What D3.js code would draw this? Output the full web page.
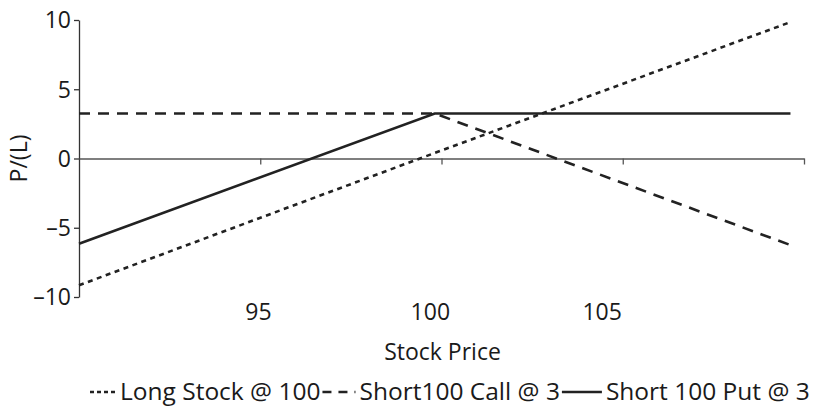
<!DOCTYPE html>
<html>
<head>
<meta charset="utf-8">
<script src="https://cdn.jsdelivr.net/npm/d3@7"></script>
<style>
  body { margin: 0; background: #fff; }
  text { font-family: "Open Sans", "Noto Sans", sans-serif; fill: #1a1a1a; }
</style>
</head>
<body>
<div id="chart"></div>
<script>
//data
var prices = [90.8, 100, 109.2];
var longStock = [-9.15, 0.4, 9.85];
var shortCall = [3.25, 3.25, -6.25];
var shortPut = [-6.15, 3.25, 3.25];

var xTickLabels = [95, 100, 105];
var yTickValues = [-10, -5, 0, 5, 10];
var seriesNames = ["Long Stock @ 100", "Short100 Call @ 3", "Short 100 Put @ 3"];

var w = 820, h = 413;
var margin = {top: 20, left: 79, right: 16, bottom: 116};
var fontSize = 23;

var svg = d3.select("#chart").append("svg")
  .attr("width", w)
  .attr("height", h);

//price axis runs a bit past the last data point
var x = d3.scaleLinear()
  .domain([90.8, 109.55])
  .range([margin.left, w - margin.right]);

//labels sit on their own (category) spacing
var xLabel = d3.scaleLinear()
  .domain([89.78, 110.87])
  .range([margin.left, w - margin.right]);

var y = d3.scaleLinear()
  .domain([-10, 10])
  .range([h - margin.bottom, margin.top]);

//y axis
var yAxis = svg.append("g")
  .attr("transform", "translate(" + margin.left + ",0)")
  .call(d3.axisLeft(y).tickValues(yTickValues).tickSize(5).tickSizeOuter(0)
    .tickFormat(function(d) { return d < 0 ? "\u2013" + Math.abs(d) : d; }));
yAxis.select(".domain").attr("stroke", "#333").attr("stroke-width", 1.3);
yAxis.selectAll(".tick line").attr("stroke", "#333").attr("stroke-width", 1.3);
yAxis.selectAll(".tick text")
  .attr("font-size", fontSize)
  .attr("x", -8)
  .attr("dy", "0.34em")
  .attr("fill", "#1a1a1a")
  .style("font-family", "'Open Sans', sans-serif");

//x axis line at zero, tick marks only
var d0 = x.domain()[0], d1 = x.domain()[1];
var xTicks = d3.range(1, 5).map(function(i) { return d0 + i * (d1 - d0) / 4; });

var xAxis = svg.append("g")
  .attr("transform", "translate(0," + y(0) + ")")
  .call(d3.axisBottom(x).tickValues(xTicks).tickSize(6).tickSizeOuter(0).tickFormat(""));
xAxis.select(".domain").attr("stroke", "#555").attr("stroke-width", 1.3);
xAxis.selectAll(".tick line").attr("stroke", "#555").attr("stroke-width", 1.3);

//x labels, low position
svg.append("g")
  .selectAll("text")
  .data(xTickLabels)
  .enter()
  .append("text")
  .attr("x", function(d) { return xLabel(d); })
  .attr("y", 320)
  .attr("text-anchor", "middle")
  .attr("font-size", fontSize)
  .text(function(d) { return d; });

//axis titles
svg.append("text")
  .attr("x", (margin.left + w - margin.right) / 2 + 1)
  .attr("y", 360)
  .attr("text-anchor", "middle")
  .attr("font-size", fontSize)
  .text("Stock Price");

svg.append("text")
  .attr("transform", "translate(27," + y(0) + ") rotate(-90)")
  .attr("text-anchor", "middle")
  .attr("font-size", fontSize)
  .text("P/(L)");

//series
var styles = [
  {values: longStock, dash: "5,4.5"},
  {values: shortCall, dash: "11,8"},
  {values: shortPut, dash: null}
];

var line = d3.line()
  .x(function(d) { return x(d[0]); })
  .y(function(d) { return y(d[1]); });

styles.forEach(function(s) {
  var p = svg.append("path")
    .datum(prices.map(function(v, i) { return [v, s.values[i]]; }))
    .attr("fill", "none")
    .attr("stroke", "#222")
    .attr("stroke-width", 2.6)
    .attr("d", line);
  if (s.dash) p.attr("stroke-dasharray", s.dash);
});

//legend, laid out left to right
var legend = svg.append("g").attr("class", "legend");
var lx = 90, ly = 392;
var sampleW = [26, 33, 40];
var sampleDash = ["4,3", "9,7", null];

seriesNames.forEach(function(name, i) {
  var l = legend.append("line")
    .attr("x1", lx).attr("x2", lx + sampleW[i])
    .attr("y1", ly).attr("y2", ly)
    .attr("stroke", "#222")
    .attr("stroke-width", 2.4);
  if (sampleDash[i]) l.attr("stroke-dasharray", sampleDash[i]);
  lx += sampleW[i] + 4;
  var t = legend.append("text")
    .attr("x", lx)
    .attr("y", ly + 8)
    .attr("font-size", 24.5)
    .text(name);
  lx += t.node().getComputedTextLength() + 2;
});
</script>
</body>
</html>
